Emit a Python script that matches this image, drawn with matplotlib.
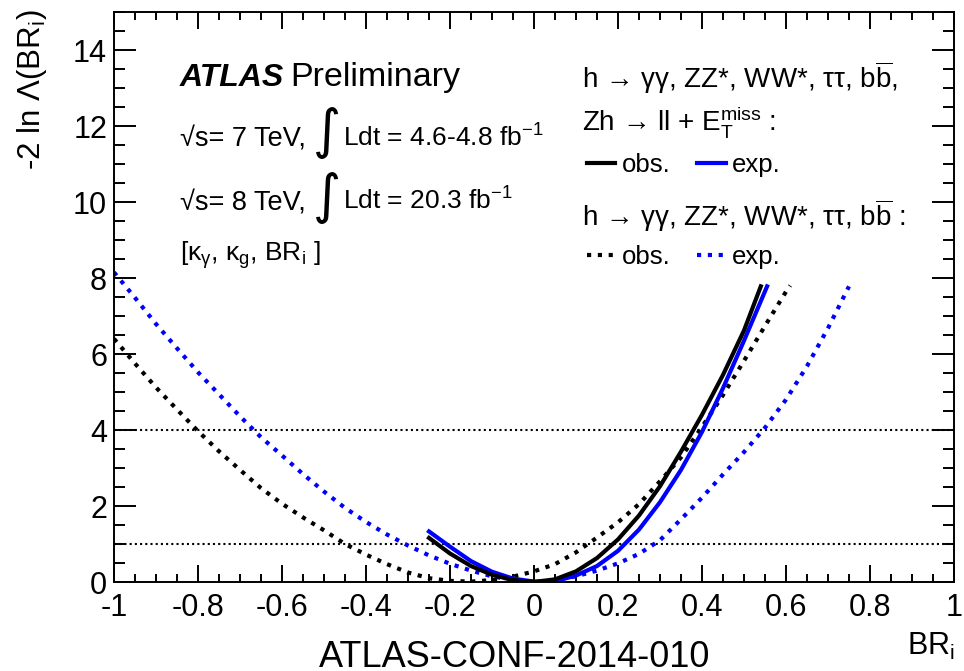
"""
Likelihood scan of BR_i (ATLAS-CONF-2014-010), redrawn with matplotlib.
"""

import matplotlib
matplotlib.use("Agg")
import matplotlib.pyplot as plt

# solid: h->gg, ZZ*, WW*, tautau, bb, Zh->ll+MET
obs_x = [-0.25, -0.20, -0.15, -0.10, -0.05, 0.00, 0.05, 0.10, 0.15, 0.20, 0.25, 0.30, 0.35, 0.40, 0.45, 0.50, 0.54]
obs_y = [1.16, 0.75, 0.42, 0.19, 0.05, 0.00, 0.07, 0.28, 0.63, 1.12, 1.75, 2.52, 3.43, 4.40, 5.45, 6.62, 7.78]
exp_x = [-0.25, -0.20, -0.15, -0.10, -0.05, 0.00, 0.05, 0.10, 0.15, 0.20, 0.25, 0.30, 0.35, 0.40, 0.45, 0.50, 0.555]
exp_y = [1.33, 0.93, 0.55, 0.27, 0.09, 0.01, 0.02, 0.17, 0.42, 0.82, 1.38, 2.10, 2.95, 3.95, 5.10, 6.35, 7.78]

# dotted: without Zh->ll+MET
obs_nozh_x = [-1.0, -0.95, -0.9, -0.85, -0.8, -0.75, -0.7, -0.65, -0.6, -0.55, -0.5, -0.45, -0.4, -0.35,
              -0.3, -0.25, -0.2, -0.15, -0.1, -0.05, 0.0, 0.05, 0.1, 0.15, 0.2, 0.25, 0.3, 0.35, 0.4,
              0.45, 0.5, 0.55, 0.6, 0.61]
obs_nozh_y = [6.40, 5.75, 5.12, 4.54, 3.97, 3.44, 2.95, 2.47, 2.06, 1.70, 1.36, 1.00, 0.72, 0.47,
              0.25, 0.10, 0.03, 0.01, 0.05, 0.14, 0.28, 0.47, 0.78, 1.17, 1.57, 2.05, 2.65, 3.28, 4.08,
              4.92, 5.82, 6.74, 7.64, 7.80]
exp_nozh_x = [-1.0, -0.95, -0.9, -0.85, -0.8, -0.75, -0.7, -0.65, -0.6, -0.55, -0.5, -0.45, -0.4, -0.35,
              -0.3, -0.25, -0.2, -0.15, -0.1, -0.05, 0.0, 0.05, 0.1, 0.15, 0.2, 0.25, 0.3, 0.35, 0.4,
              0.45, 0.5, 0.55, 0.6, 0.65, 0.7, 0.75]
exp_nozh_y = [8.15, 7.48, 6.79, 6.15, 5.52, 4.94, 4.36, 3.81, 3.33, 2.84, 2.38, 1.95, 1.58, 1.25,
              0.96, 0.70, 0.48, 0.30, 0.15, 0.05, 0.01, 0.05, 0.15, 0.30, 0.49, 0.74, 1.10, 1.65, 2.22,
              2.83, 3.42, 4.06, 4.80, 5.68, 6.68, 7.78]

thresholds = [1, 4]

xticks = [-1, -0.8, -0.6, -0.4, -0.2, 0, 0.2, 0.4, 0.6, 0.8, 1]
xtick_labels = ["-1", "-0.8", "-0.6", "-0.4", "-0.2", "0", "0.2", "0.4", "0.6", "0.8", "1"]
yticks = [0, 2, 4, 6, 8, 10, 12, 14]
ytick_labels = ["0", "2", "4", "6", "8", "10", "12", "14"]

plt.rcParams["font.family"] = ["Liberation Sans", "DejaVu Sans"]
plt.rcParams["mathtext.fontset"] = "custom"
plt.rcParams["mathtext.rm"] = "Liberation Sans"
plt.rcParams["mathtext.it"] = "Liberation Sans:italic"
plt.rcParams["mathtext.bf"] = "Liberation Sans:bold"
plt.rcParams["mathtext.sf"] = "Liberation Sans"

W, H = 964, 671


def fx(px):
    return px / W


def fy(py):
    return 1 - py / H


fig = plt.figure(figsize=(W / 100, H / 100), dpi=100)
ax = fig.add_axes([fx(114), fy(582), fx(954) - fx(114), fy(12) - fy(582)])

dot = (0, (1, 1.6))
l_exp_nozh, = ax.plot(exp_nozh_x, exp_nozh_y, color="blue", lw=3, ls=dot)
l_obs_nozh, = ax.plot(obs_nozh_x, obs_nozh_y, color="black", lw=3, ls=dot)
l_exp, = ax.plot(exp_x, exp_y, color="blue", lw=3)
l_obs, = ax.plot(obs_x, obs_y, color="black", lw=3)
for t in thresholds:
    ax.axhline(t, color="black", lw=1.5, ls=(0, (1, 1.5)), zorder=1)

ax.set_xlim(-1, 1)
ax.set_ylim(0, 15)
ax.set_xticks(xticks)
ax.set_xticklabels(xtick_labels)
ax.set_yticks(yticks)
ax.set_yticklabels(ytick_labels)
ax.set_xticks([i * 0.05 - 1 for i in range(41)], minor=True)
ax.set_yticks([i * 0.5 for i in range(31)], minor=True)
ax.tick_params(which="both", direction="in", top=True, right=True, width=1.4, labelsize=22, pad=5)
ax.tick_params(axis="x", which="major", length=12, pad=8)
ax.tick_params(axis="x", which="minor", length=6)
ax.tick_params(axis="y", which="major", length=16)
ax.tick_params(axis="y", which="minor", length=8)
for s in ax.spines.values():
    s.set_linewidth(1.4)

# axis titles
fig.text(fx(32), fy(9), r"-2 ln Λ(BR$_\mathrm{i}$)", rotation=90, ha="center", va="top", fontsize=22.5)
fig.text(fx(955), fy(646), r"BR$_\mathrm{i}$", ha="right", va="center", fontsize=22)
fig.text(fx(515), fy(667), "ATLAS-CONF-2014-010", ha="center", va="baseline", fontsize=26)

# ATLAS label block
fig.text(fx(180), fy(86), "ATLAS", fontsize=23, fontweight="bold", fontstyle="italic", va="baseline")
fig.text(fx(290), fy(86), "Preliminary", fontsize=24.5, va="baseline")
fig.text(fx(180), fy(147), "√s= 7 TeV,", fontsize=19.5, va="baseline")
fig.text(fx(327), fy(133), "∫", fontsize=39, family="DejaVu Sans", ha="center", va="center")
fig.text(fx(343), fy(147), r"Ldt = 4.6-4.8 fb$^{-1}$", fontsize=19, va="baseline")
fig.text(fx(180), fy(210), "√s= 8 TeV,", fontsize=19.5, va="baseline")
fig.text(fx(327), fy(198), "∫", fontsize=39, family="DejaVu Sans", ha="center", va="center")
fig.text(fx(343), fy(210), r"Ldt = 20.3 fb$^{-1}$", fontsize=19, va="baseline")
fig.text(fx(180), fy(261), r"[κ$_\mathrm{γ}$, κ$_\mathrm{g}$, BR$_\mathrm{i}$ ]", fontsize=19, va="baseline")

# legend block
fig.text(fx(582), fy(78), r"h → γγ, ZZ*, WW*, ττ, b$\overline{\mathrm{b}}$,", fontsize=20, va="center")
fig.text(fx(582), fy(122), r"Zh → ll + E$_\mathrm{T}^\mathrm{miss}$ :", fontsize=20, va="center")
fig.text(fx(582), fy(216), r"h → γγ, ZZ*, WW*, ττ, b$\overline{\mathrm{b}}$ :", fontsize=20, va="center")

leg_kw = dict(ncol=2, frameon=False, fontsize=18.5, handlelength=1.1, handletextpad=0.25,
              columnspacing=1.05, borderpad=0, borderaxespad=0, loc="center left",
              bbox_transform=fig.transFigure)
leg1 = ax.legend([l_obs, l_exp], ["obs.", "exp."], bbox_to_anchor=(fx(587), fy(165)), **leg_kw)
ax.add_artist(leg1)
ax.legend([l_obs_nozh, l_exp_nozh], ["obs.", "exp."], bbox_to_anchor=(fx(587), fy(257)), **leg_kw)

fig.savefig("out.png", dpi=100)
